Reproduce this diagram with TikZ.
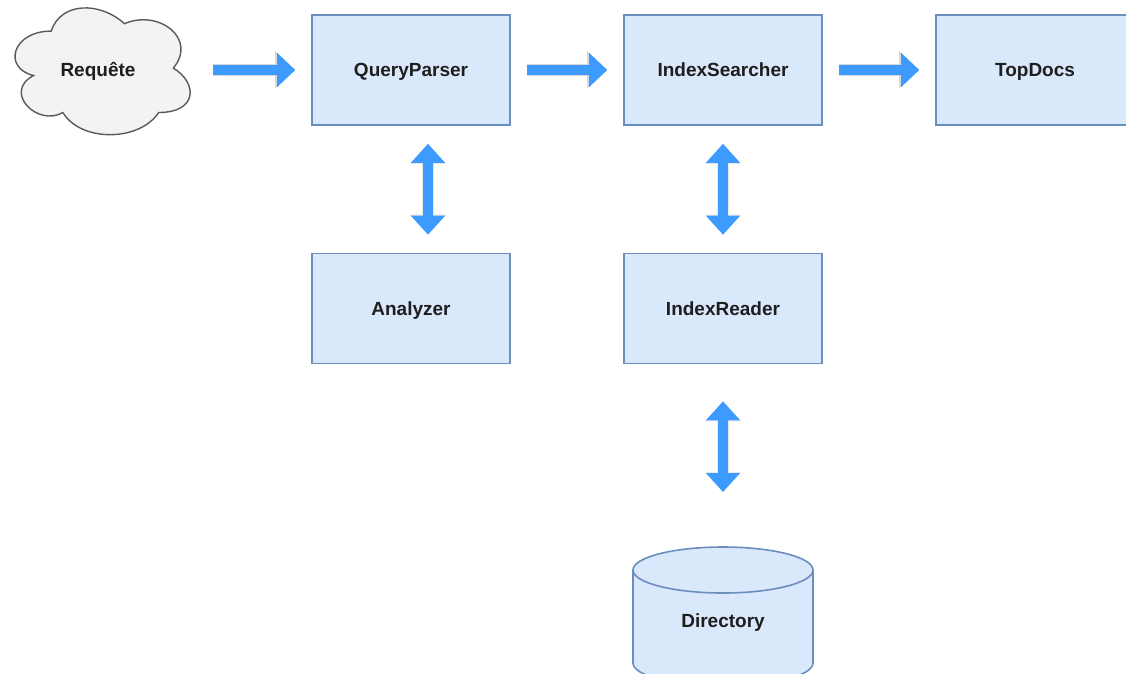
\documentclass[tikz,border=0pt]{standalone}
\usepackage{fontspec}
\setmainfont{Liberation Sans}
\usetikzlibrary{arrows.meta}

\definecolor{boxfill}{HTML}{DAE8FC}
\definecolor{boxline}{HTML}{6C8EBF}
\definecolor{cloudfill}{HTML}{F3F3F3}
\definecolor{cloudline}{HTML}{5A5A5A}
\definecolor{flowblue}{HTML}{3D9BFF}
\definecolor{flowedge}{HTML}{D8D8D8}
\definecolor{labelcol}{HTML}{1E1E1E}

\tikzset{
  x=1pt, y=-1pt,
  every node/.style={font=\bfseries\fontsize{19}{22}\selectfont, text=labelcol,
    text height=13.6pt, text depth=0pt, inner sep=0pt},
  compbox/.style={draw=boxline, fill=boxfill, line width=1.6pt,
    minimum width=198pt, minimum height=110pt},
  flowarrow/.style={
    preaction={draw=flowedge, line width=12.5pt, -{Triangle[length=20pt,width=36pt]}},
    draw=flowblue, line width=10pt, -{Triangle[length=18pt,width=33pt]}},
  bothways/.style={
    preaction={draw=flowedge!60, line width=11.5pt, {Triangle[length=20pt,width=35pt]}-{Triangle[length=20pt,width=35pt]}},
    draw=flowblue, line width=10pt, {Triangle[length=19pt,width=33pt]}-{Triangle[length=19pt,width=33pt]}},
}

\begin{document}
\begin{tikzpicture}
\path[use as bounding box] (0,0) rectangle (1126,673);
\clip (0,0) rectangle (1126,673);

% query cloud (w = 195.5, h = 148, placed at (2.3,-5.9))
\begin{scope}[shift={(2.3,-5.9)}, x=195.5pt, y=-148pt]
\draw[draw=cloudline, fill=cloudfill, line width=1.4pt]
  (0.25,0.25)
  .. controls (0.05,0.25) and (0,0.5) .. (0.16,0.55)
  .. controls (0,0.66) and (0.18,0.9) .. (0.31,0.8)
  .. controls (0.4,1) and (0.7,1) .. (0.8,0.8)
  .. controls (1,0.8) and (1,0.6) .. (0.875,0.5)
  .. controls (1,0.3) and (0.8,0.1) .. (0.625,0.2)
  .. controls (0.5,0.05) and (0.3,0.05) .. (0.25,0.25) -- cycle;
\end{scope}
\node (req) at (98,70) {Requête};
\coordinate (cloudeast) at (190,70);

% components
\node[compbox] (qp) at (411,70) {QueryParser};
\node[compbox] (is) at (723,70) {IndexSearcher};
\node[compbox] (td) at (1035,70) {TopDocs};
\node[compbox] (an) at (411,308.5) {Analyzer};
\node[compbox] (ir) at (723,308.5) {IndexReader};

% directory storage (cylinder)
\fill[boxfill] (633,570) -- (633,663)
  arc[start angle=180, end angle=0, x radius=90, y radius=23]
  -- (813,570)
  arc[start angle=0, end angle=-180, x radius=90, y radius=23] -- cycle;
\draw[boxline, line width=1.6pt] (633,570) -- (633,663)
  arc[start angle=180, end angle=0, x radius=90, y radius=23] -- (813,570);
\draw[boxline, line width=1.6pt] (723,570) ellipse[x radius=90, y radius=23];
\coordinate (dirtop) at (723,547);
\node (dir) at (723,621) {Directory};

% connectors
\draw[flowarrow, shorten <=23pt, shorten >=16pt] (cloudeast) -- (qp.west);
\draw[flowarrow, shorten <=16pt, shorten >=16pt] (qp) -- (is);
\draw[flowarrow, shorten <=16pt, shorten >=16pt] (is) -- (td);
\draw[bothways, shorten <=18pt, shorten >=18pt] ([xshift=17pt]qp.south) -- ([xshift=17pt]an.north);
\draw[bothways, shorten <=18pt, shorten >=18pt] (is) -- (ir);
\draw[bothways, shorten <=37pt, shorten >=55pt] (ir) -- (dirtop);
\end{tikzpicture}
\end{document}
